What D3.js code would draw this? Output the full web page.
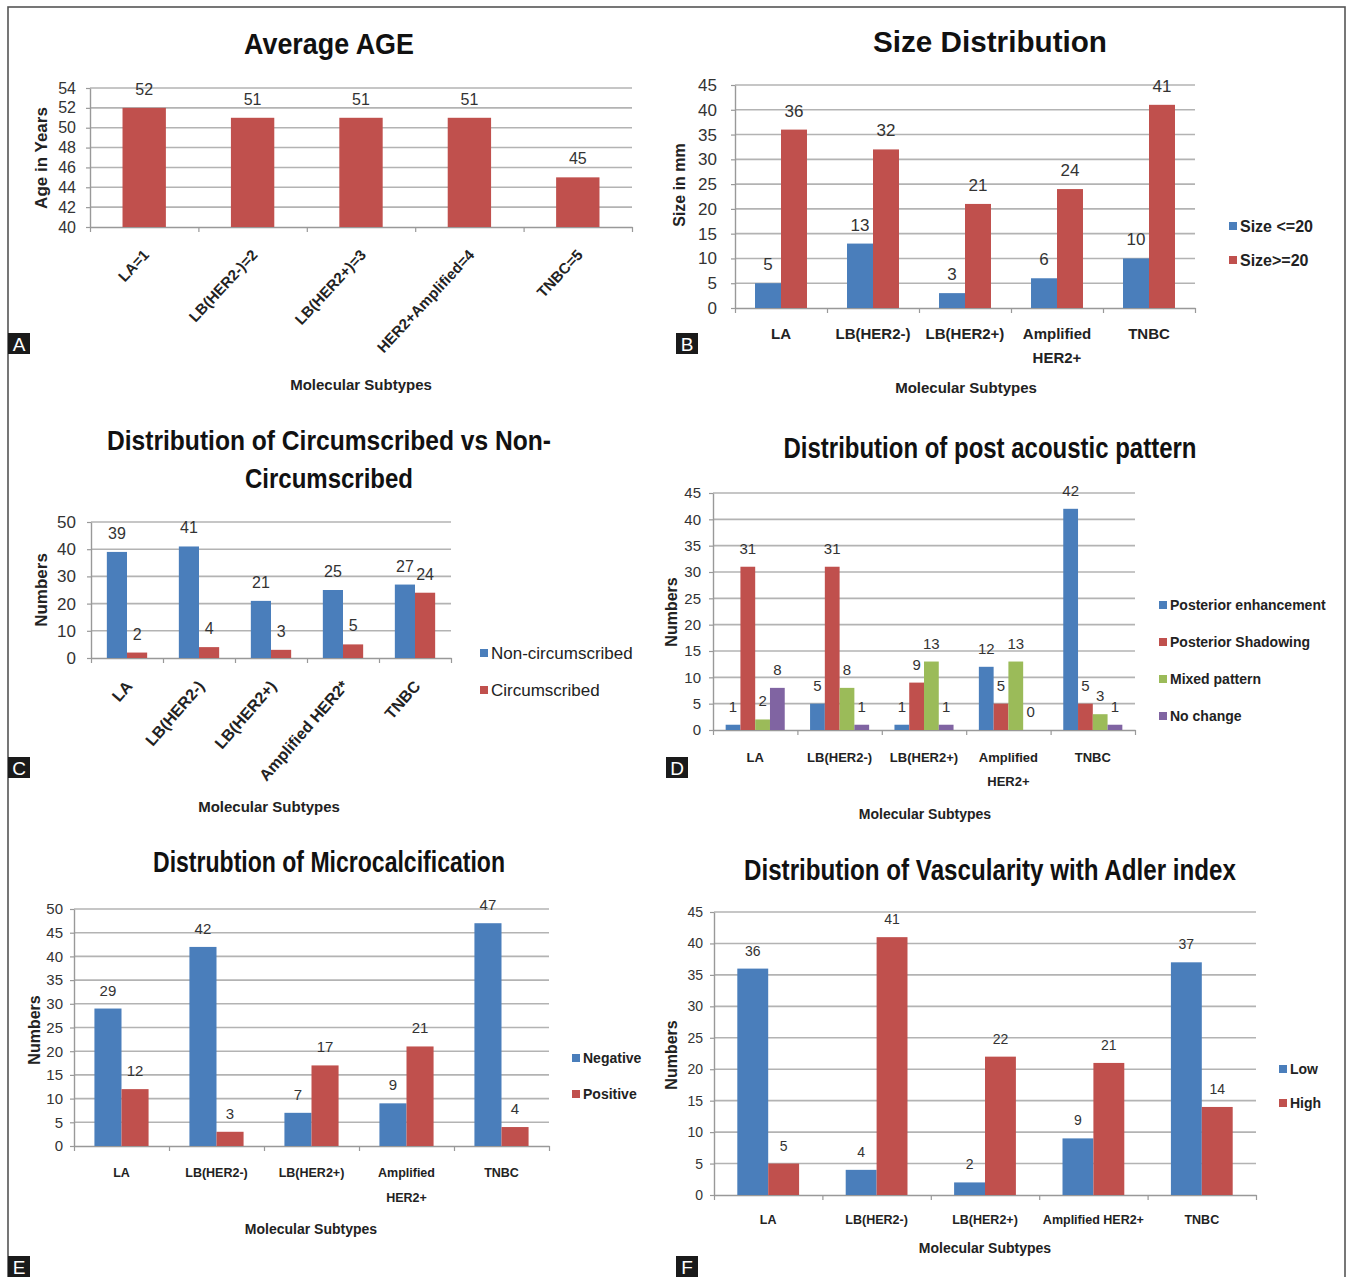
<!DOCTYPE html>
<html><head><meta charset="utf-8">
<script src="https://cdn.jsdelivr.net/npm/d3@7"></script>
<style>body{margin:0;background:#fff}</style>
</head><body><svg id="fig" width="1346" height="1277"></svg>
<script>
// ---------- DATA ----------
const ageCategories = ["LA=1","LB(HER2-)=2","LB(HER2+)=3","HER2+Amplified=4","TNBC=5"];
const ageValues = [52,51,51,51,45];
const ageTicks = [40,42,44,46,48,50,52,54];

const subtypes = ["LA","LB(HER2-)","LB(HER2+)","Amplified HER2+","TNBC"];
const subtypesRot = ["LA","LB(HER2-)","LB(HER2+)","Amplified HER2*","TNBC"];

const sizeSeries = ["Size <=20","Size>=20"];
const sizeSmall = [5,13,3,6,10];
const sizeLarge = [36,32,21,24,41];
const sizeTicks = [0,5,10,15,20,25,30,35,40,45];

const circSeries = ["Non-circumscribed","Circumscribed"];
const nonCirc = [39,41,21,25,27];
const circ = [2,4,3,5,24];
const circTicks = [0,10,20,30,40,50];

const acousticSeries = ["Posterior enhancement","Posterior Shadowing","Mixed pattern","No change"];
const postEnhancement = [1,5,1,12,42];
const postShadowing = [31,31,9,5,5];
const mixedPattern = [2,8,13,13,3];
const noChange = [8,1,1,0,1];
const acousticTicks = [0,5,10,15,20,25,30,35,40,45];

const microSeries = ["Negative","Positive"];
const microNegative = [29,42,7,9,47];
const microPositive = [12,3,17,21,4];
const microTicks = [0,5,10,15,20,25,30,35,40,45,50];

const vascSeries = ["Low","High"];
const vascLow = [36,4,2,9,37];
const vascHigh = [5,41,22,21,14];
const vascTicks = [0,5,10,15,20,25,30,35,40,45];

// ---------- STYLE ----------
const FONT = "'Liberation Sans Narrow','Liberation Sans',Arial,sans-serif";
const BLUE="#4a7ebb", RED="#c0504d", GREEN="#9bbb59", PURPLE="#8064a2";
const TXT="#222", TICKTXT="#333", GRID="#b3b3b3";

const svg = d3.select("#fig").style("font-family", FONT);
svg.append("rect").attr("x",8).attr("y",7).attr("width",1337).attr("height",1290)
  .attr("fill","none").attr("stroke","#555").attr("stroke-width",1.6);

function drawPanel(p){
  const g = svg.append("g");
  const n = p.categories.length;
  const y = d3.scaleLinear().domain([p.ticks[0], p.ticks[p.ticks.length-1]]).range([p.y0, p.y1]);
  const x = d3.scaleBand().domain(d3.range(n)).range([p.x0,p.x1]).paddingInner(p.pad).paddingOuter(p.pad/2);
  const xs = d3.scaleBand().domain(d3.range(p.series.length)).range([0, x.bandwidth()]);
  const xb = d3.scaleLinear().domain([0,n]).range([p.x0,p.x1]);

  // grid
  g.selectAll("line.grid").data(p.ticks.slice(1)).join("line").attr("class","grid")
    .attr("x1",p.x0).attr("x2",p.x1).attr("y1",d=>y(d)).attr("y2",d=>y(d))
    .attr("stroke",GRID).attr("stroke-width",1.6);

  // y axis
  const ya = g.append("g").attr("transform",`translate(${p.x0},0)`)
    .call(d3.axisLeft(y).tickValues(p.ticks).tickSizeInner(4).tickSizeOuter(0).tickPadding(p.tickPad));
  ya.select(".domain").attr("stroke","#999").attr("stroke-width",1.4);
  ya.selectAll(".tick line").attr("stroke","#999").attr("stroke-width",1.2);
  ya.selectAll(".tick text").attr("fill",TICKTXT).style("font-size",p.tickFont+"px").style("font-family",FONT);

  // x axis
  const xa = g.append("g").attr("transform",`translate(0,${p.y0})`)
    .call(d3.axisBottom(xb).tickValues(d3.range(n+1)).tickFormat("").tickSizeInner(5).tickSizeOuter(0));
  xa.select(".domain").attr("stroke","#999").attr("stroke-width",1.6);
  xa.selectAll(".tick line").attr("stroke","#999").attr("stroke-width",1.2);

  // bars
  p.series.forEach((s,si)=>{
    g.selectAll(null).data(s.values).join("rect")
      .attr("x",(d,i)=>x(i)+xs(si)).attr("width",xs.bandwidth())
      .attr("y",d=>y(d)).attr("height",d=>y(p.ticks[0])-y(d))
      .attr("fill",s.color);
    g.selectAll(null).data(s.values).join("text")
      .attr("x",(d,i)=>x(i)+xs(si)+xs.bandwidth()/2)
      .attr("y",d=>y(d)-p.labelGap)
      .attr("text-anchor","middle").attr("fill",TICKTXT)
      .style("font-size",p.valFont+"px").text(d=>d);
  });

  // category labels
  if(p.rotate){
    g.selectAll(null).data(p.categories).join("text")
      .attr("transform",(d,i)=>`translate(${x(i)+x.bandwidth()/2+p.rotDx},${p.y0+p.rotDy}) rotate(${p.rotAngle})`)
      .attr("text-anchor","end").attr("dy","0.35em").attr("fill",TXT)
      .style("font-size",p.catFont+"px").style("font-weight","bold").text(d=>d);
  } else {
    p.categories.forEach((c,i)=>{
      const lines = p.wrap && p.wrap[c] ? p.wrap[c] : [c];
      const t = g.append("text").attr("text-anchor","middle").attr("fill",TXT)
        .style("font-size",p.catFont+"px").style("font-weight","bold");
      lines.forEach((ln,k)=>{
        t.append("tspan").attr("x",x(i)+x.bandwidth()/2).attr("y",p.catY + k*p.catLine).text(ln);
      });
    });
  }

  // titles
  p.title.forEach(tl=>{
    g.append("text").attr("x",tl.x).attr("y",tl.y).attr("text-anchor","middle")
      .attr("fill","#111").style("font-size",p.titleFont+"px").style("font-weight","bold")
      .attr("textLength",tl.w).attr("lengthAdjust","spacingAndGlyphs").text(tl.t);
  });
  // x title
  g.append("text").attr("x",p.xTitle[0]).attr("y",p.xTitle[1]).attr("text-anchor","middle")
    .attr("fill",TXT).style("font-size",p.axisFont+"px").style("font-weight","bold").text("Molecular Subtypes");
  // y title
  g.append("text").attr("transform",`translate(${p.yTitle[0]},${p.yTitle[1]}) rotate(-90)`)
    .attr("text-anchor","middle").attr("fill",TXT).style("font-size",p.yAxisFont+"px")
    .style("font-weight","bold").text(p.yTitleText);

  // legend
  if(p.legend){
    p.series.forEach((s,si)=>{
      const ly = p.legend.y + si*p.legend.dy;
      g.append("rect").attr("x",p.legend.x).attr("y",ly-4).attr("width",8).attr("height",8).attr("fill",s.color);
      g.append("text").attr("x",p.legend.x+11).attr("y",ly).attr("dy","0.35em").attr("fill",TXT)
        .style("font-size",p.legend.font+"px").style("font-weight",p.legend.weight).text(s.name);
    });
  }

  // panel letter
  g.append("rect").attr("x",p.letter[0]).attr("y",p.letter[1]).attr("width",22).attr("height",21).attr("fill","#1a1a1a");
  g.append("text").attr("x",p.letter[0]+11).attr("y",p.letter[1]+18).attr("text-anchor","middle")
    .attr("fill","#fff").style("font-family","'Liberation Sans',Arial,sans-serif").style("font-size","19px").text(p.letter[2]);
}

// Panel A
drawPanel({
  categories: ageCategories, ticks: ageTicks,
  series: [{name:"Age", values: ageValues, color: RED}],
  x0:90, x1:632, y0:227, y1:88, pad:0.6, tickPad:10, tickFont:16, valFont:16, labelGap:13,
  rotate:true, rotDx:2, rotDy:25, rotAngle:-47, catFont:15,
  title:[{t:"Average AGE", x:329, y:54, w:170}], titleFont:30,
  xTitle:[361,390], yTitle:[47,158], yTitleText:"Age in Years", axisFont:15, yAxisFont:17,
  letter:[8,333,"A"]
});

// Panel B
drawPanel({
  categories: subtypes, ticks: sizeTicks,
  series: [{name:sizeSeries[0], values:sizeSmall, color:BLUE},{name:sizeSeries[1], values:sizeLarge, color:RED}],
  x0:735, x1:1195, y0:308, y1:85, pad:0.435, tickPad:14, tickFont:17, valFont:17, labelGap:13,
  rotate:false, catY:339, catLine:24, catFont:15, wrap:{"Amplified HER2+":["Amplified","HER2+"]},
  title:[{t:"Size Distribution", x:990, y:52, w:234}], titleFont:30,
  xTitle:[966,393], yTitle:[685,185], yTitleText:"Size in mm", axisFont:15, yAxisFont:16,
  legend:{x:1229, y:226, dy:34, font:16, weight:"bold"},
  letter:[676,333,"B"]
});

// Panel C
drawPanel({
  categories: subtypesRot, ticks: circTicks,
  series: [{name:circSeries[0], values:nonCirc, color:BLUE},{name:circSeries[1], values:circ, color:RED}],
  x0:91, x1:451, y0:658, y1:522, pad:0.44, tickPad:11, tickFont:17, valFont:16, labelGap:13,
  rotate:true, rotDx:2, rotDy:25, rotAngle:-49, catFont:16,
  title:[{t:"Distribution of Circumscribed vs Non-", x:329, y:450, w:444},{t:"Circumscribed", x:329, y:488, w:168}], titleFont:27,
  xTitle:[269,812], yTitle:[47,590], yTitleText:"Numbers", axisFont:15, yAxisFont:17,
  legend:{x:480, y:653, dy:37, font:17, weight:"normal"},
  letter:[8,757,"C"]
});

// Panel D
drawPanel({
  categories: subtypes, ticks: acousticTicks,
  series: [{name:acousticSeries[0], values:postEnhancement, color:BLUE},
           {name:acousticSeries[1], values:postShadowing, color:RED},
           {name:acousticSeries[2], values:mixedPattern, color:GREEN},
           {name:acousticSeries[3], values:noChange, color:PURPLE}],
  x0:713, x1:1135, y0:730, y1:493, pad:0.3, tickPad:8, tickFont:15, valFont:15, labelGap:13,
  rotate:false, catY:762, catLine:24, catFont:13, wrap:{"Amplified HER2+":["Amplified","HER2+"]},
  title:[{t:"Distribution of post acoustic pattern", x:990, y:458, w:413}], titleFont:29,
  xTitle:[925,819], yTitle:[677,612], yTitleText:"Numbers", axisFont:14, yAxisFont:16,
  legend:{x:1159, y:605, dy:37, font:14, weight:"bold"},
  letter:[666,757,"D"]
});

// Panel E
drawPanel({
  categories: subtypes, ticks: microTicks,
  series: [{name:microSeries[0], values:microNegative, color:BLUE},{name:microSeries[1], values:microPositive, color:RED}],
  x0:74, x1:549, y0:1146, y1:909, pad:0.43, tickPad:7, tickFont:15, valFont:15, labelGap:13,
  rotate:false, catY:1177, catLine:25, catFont:12.5, wrap:{"Amplified HER2+":["Amplified","HER2+"]},
  title:[{t:"Distrubtion of Microcalcification", x:329, y:872, w:352}], titleFont:29,
  xTitle:[311,1234], yTitle:[40,1030], yTitleText:"Numbers", axisFont:14, yAxisFont:16,
  legend:{x:572, y:1058, dy:36, font:14, weight:"bold"},
  letter:[8,1256,"E"]
});

// Panel F
drawPanel({
  categories: subtypes, ticks: vascTicks,
  series: [{name:vascSeries[0], values:vascLow, color:BLUE},{name:vascSeries[1], values:vascHigh, color:RED}],
  x0:714, x1:1256, y0:1195, y1:912, pad:0.43, tickPad:7, tickFont:14, valFont:14, labelGap:13,
  rotate:false, catY:1224, catLine:24, catFont:12.5,
  title:[{t:"Distribution of Vascularity with Adler index", x:990, y:880, w:492}], titleFont:29,
  xTitle:[985,1253], yTitle:[677,1055], yTitleText:"Numbers", axisFont:14, yAxisFont:16,
  legend:{x:1279, y:1069, dy:34, font:14, weight:"bold"},
  letter:[676,1256,"F"]
});
</script></body></html>
